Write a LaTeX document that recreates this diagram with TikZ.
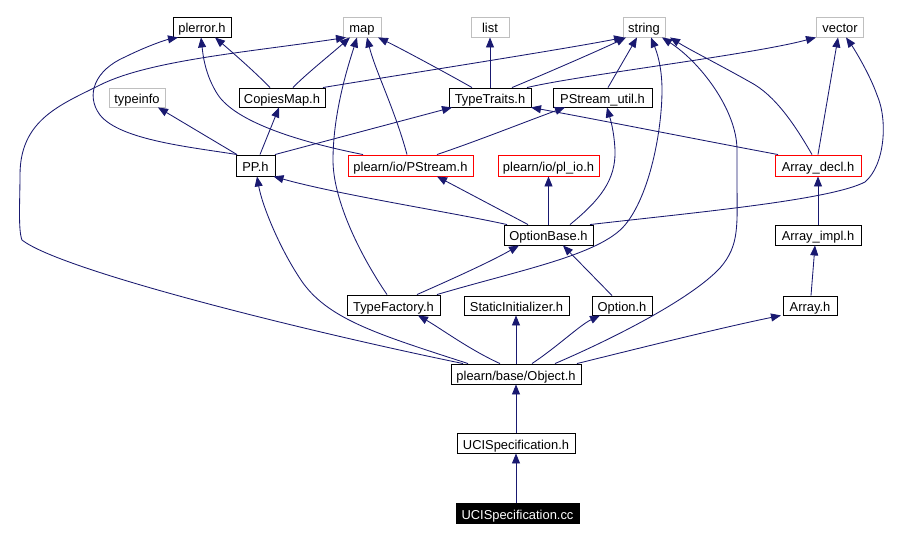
\documentclass[tikz,border=0pt]{standalone}
\usepackage{fontspec}
\setmainfont{Liberation Sans}
\usetikzlibrary{arrows.meta}
\definecolor{edgecol}{HTML}{191970}
\definecolor{graybox}{HTML}{BFBFBF}
\tikzset{
  box/.style={draw=black, fill=white, line width=0.9pt, inner sep=0pt, minimum height=20pt,
    text height=12pt, text depth=0pt,
    font=\fontsize{12.9}{14}\selectfont, text=black},
  gbox/.style={box, draw=graybox},
  rbox/.style={box, draw=red},
  kbox/.style={box, fill=black, text=white},
  edge/.style={draw=edgecol, line width=0.85pt, -{Triangle[length=10pt,width=8pt]}, fill=none},
}
\begin{document}
\begin{tikzpicture}[x=1pt,y=-1pt]
\useasboundingbox[fill=white] (0,0) rectangle (916,540);
% nodes
\node[box, minimum width=58pt] (plerror) at (202,27) {plerror.h};
\node[gbox, minimum width=38pt] (map) at (362,27) {map};
\node[gbox, minimum width=38pt] (list) at (490,27) {list};
\node[gbox, minimum width=42pt] (string) at (644,27) {string};
\node[gbox, minimum width=47pt] (vector) at (840,27) {vector};
\node[gbox, minimum width=56pt, minimum height=19pt] (typeinfo) at (137,97.5) {typeinfo};
\node[box, minimum width=86pt, minimum height=19pt] (copies) at (282,97.5) {CopiesMap.h};
\node[box, minimum width=82pt, minimum height=19pt] (traits) at (490,97.5) {TypeTraits.h};
\node[box, minimum width=99pt, minimum height=19pt] (psutil) at (602.5,97.5) {PStream\_util.h};
\node[box, minimum width=39pt, minimum height=21pt] (pp) at (255.5,165.5) {PP.h};
\node[rbox, minimum width=125pt, minimum height=21pt] (pstream) at (410.5,165.5) {plearn/io/PStream.h};
\node[rbox, minimum width=101pt, minimum height=21pt] (plio) at (548.5,165.5) {plearn/io/pl\_io.h};
\node[rbox, minimum width=86pt, minimum height=21pt] (adecl) at (818,165.5) {Array\_decl.h};
\node[box, minimum width=89pt] (optbase) at (548.5,235) {OptionBase.h};
\node[box, minimum width=86pt] (aimpl) at (818,235) {Array\_impl.h};
\node[box, minimum width=93pt] (tfact) at (393.5,305) {TypeFactory.h};
\node[box, minimum width=105pt, minimum height=19pt] (static) at (516.5,305.5) {StaticInitializer.h};
\node[box, minimum width=60pt, minimum height=19pt] (option) at (622,305.5) {Option.h};
\node[box, minimum width=54pt, minimum height=19pt] (array) at (810,305.5) {Array.h};
\node[box, minimum width=130pt] (obj) at (516,374) {plearn/base/Object.h};
\node[box, minimum width=118pt] (ucih) at (516,443) {UCISpecification.h};
\node[kbox, minimum width=123pt] (cc) at (517.5,513) {UCISpecification.cc};
% edges
\draw[edge] (cc.north -| ucih.south) -- (ucih.south);
\draw[edge] (ucih.north) -- (obj.south);
\draw[edge] (obj.north) -- (obj.north |- static.south);
\draw[edge] ([xshift=-16pt]obj.north) .. controls (470,350) and (440,328) .. ([xshift=24.5pt]tfact.south);
\draw[edge] ([xshift=16pt]obj.north) .. controls (557,347) and (580,325) .. ([xshift=-22pt]option.south);
\draw[edge] ([xshift=61pt]obj.north) .. controls (640,348) and (720,328) .. ([xshift=-29pt]array.south);
\draw[edge] ([xshift=39pt]obj.north) .. controls (610,340) and (690,300) .. (720,268)
   .. controls (740,245) and (737,225) .. (737,180) -- (737,150)
   .. controls (737,110) and (700,62) .. ([xshift=18pt]string.south);
\draw[edge] ([xshift=-48pt]obj.north) .. controls (380,335) and (330,320) .. (303,283)
   .. controls (280,250) and (262,205) .. ([xshift=1.5pt]pp.south);
\draw[edge] ([xshift=-53pt]obj.north) .. controls (300,330) and (60,270) .. (22,240)
   .. controls (18,230) and (20,200) .. (20,175)
   .. controls (20,120) and (60,105) .. (100,85)
   .. controls (150,60) and (250,52) .. ([xshift=-16pt]map.south);
\draw[edge] ([xshift=-41.5pt]optbase.north) .. controls (450,212) and (340,195) .. ([xshift=18pt]pp.south);
\draw[edge] ([xshift=-20.5pt]optbase.north) -- ([xshift=26.5pt]pstream.south);
\draw[edge] (optbase.north) -- (plio.south);
\draw[edge] ([xshift=21.5pt]optbase.north) .. controls (600,200) and (616,180) .. (615,150)
   .. controls (614,130) and (610,118) .. ([xshift=4.5pt]psutil.south);
\draw[edge] ([xshift=41.5pt]optbase.north) .. controls (700,212) and (830,200) .. (865,182)
   .. controls (885,165) and (888,120) .. (877,95)
   .. controls (870,75) and (855,50) .. ([xshift=6pt]vector.south);
\draw[edge] ([xshift=-10pt]option.north) -- ([xshift=14.5pt]optbase.south);
\draw[edge] ([xshift=23.5pt]tfact.north) .. controls (450,280) and (490,262) .. ([xshift=-29.5pt]optbase.south);
\draw[edge] ([xshift=43.5pt]tfact.north) .. controls (520,270) and (600,255) .. (625,225)
   .. controls (650,195) and (662,130) .. (662,90)
   .. controls (662,65) and (656,50) .. ([xshift=7pt]string.south);
\draw[edge] ([xshift=-6.5pt]tfact.north) .. controls (360,255) and (333,200) .. (333,160)
   .. controls (333,110) and (350,60) .. ([xshift=-5pt]map.south);
\draw[edge] ([xshift=-47.5pt]pstream.north) .. controls (290,140) and (235,120) .. (218,95)
   .. controls (205,75) and (203,55) .. ([xshift=-1pt]plerror.south);
\draw[edge] ([xshift=-3.5pt]pstream.north) .. controls (395,110) and (375,70) .. ([xshift=5pt]map.south);
\draw[edge] ([xshift=26.5pt]pstream.north) .. controls (480,140) and (530,120) .. ([xshift=-37.5pt]psutil.south);
\draw[edge] ([xshift=-18.5pt]pp.north) .. controls (190,147) and (120,140) .. (100,115)
   .. controls (85,95) and (95,70) .. (125,57)
   .. controls (145,47) and (165,40) .. ([xshift=-24pt]plerror.south);
\draw[edge] ([xshift=-18.5pt]pp.north) -- ([xshift=21pt]typeinfo.south);
\draw[edge] ([xshift=4.5pt]pp.north) -- ([xshift=-3pt]copies.south);
\draw[edge] ([xshift=19.5pt]pp.north) -- ([xshift=-38pt]traits.south);
\draw[edge] ([xshift=-12pt]copies.north) .. controls (255,72) and (232,52) .. ([xshift=13pt]plerror.south);
\draw[edge] ([xshift=11pt]copies.north) .. controls (305,75) and (330,55) .. ([xshift=-12pt]map.south);
\draw[edge] ([xshift=41pt]copies.north) .. controls (380,78) and (560,50) .. ([xshift=-20pt]string.south);
\draw[edge] ([xshift=-18pt]traits.north) .. controls (450,75) and (400,48) .. ([xshift=16pt]map.south);
\draw[edge] (traits.north) -- (list.south);
\draw[edge] ([xshift=22pt]traits.north) .. controls (540,76) and (600,50) .. ([xshift=-18pt]string.south);
\draw[edge] ([xshift=37pt]traits.north) .. controls (580,75) and (750,55) .. ([xshift=-24pt]vector.south);
\draw[edge] ([xshift=5.5pt]psutil.north) -- ([xshift=-7pt]string.south);
\draw[edge] ([xshift=-40pt]adecl.north) .. controls (700,140) and (600,120) .. ([xshift=41pt]traits.south);
\draw[edge] ([xshift=-6pt]adecl.north) .. controls (795,125) and (775,95) .. (750,82)
   .. controls (720,65) and (690,50) .. ([xshift=26pt]string.south);
\draw[edge] (adecl.north) -- ([xshift=-2pt]vector.south);
\draw[edge] (aimpl.north) -- (adecl.south);
\draw[edge] ([xshift=1pt]array.north) -- ([xshift=-3pt]aimpl.south);
\end{tikzpicture}
\end{document}
